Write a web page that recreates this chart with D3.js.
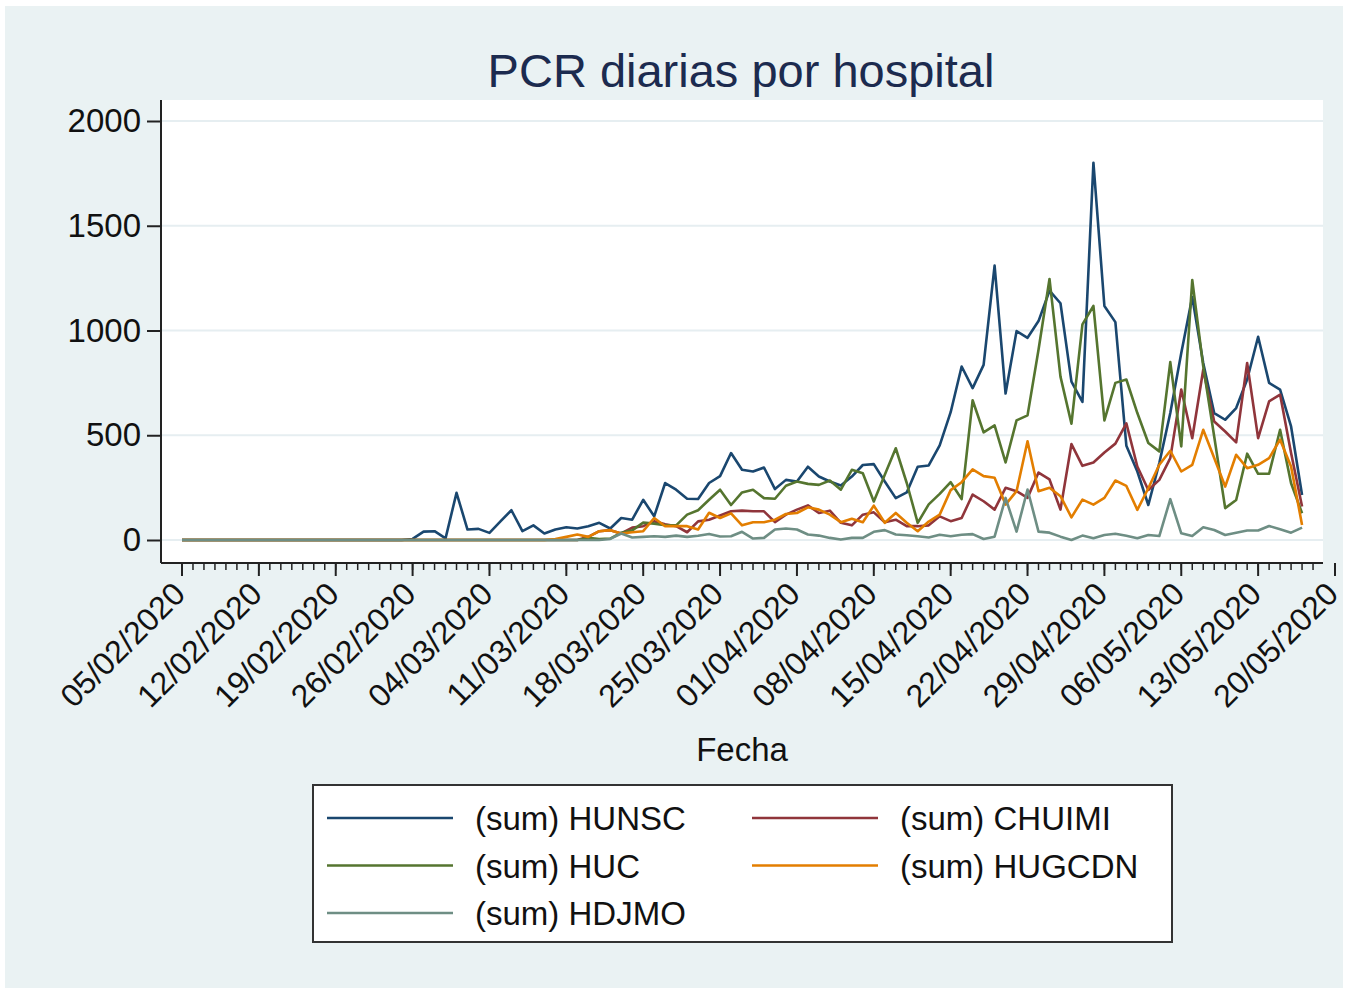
<!DOCTYPE html>
<html>
<head>
<meta charset="utf-8">
<script src="https://cdn.jsdelivr.net/npm/d3@7"></script>
<style>
  body { margin: 0; background: #fff; }
  svg { display: block; font-family: "Liberation Sans", Arial, sans-serif; }
</style>
</head>
<body>
<div id="chart"></div>
<script>
// daily PCR counts, one value per day starting 05/02/2020
let startDate = "2020-02-05";
let hospitals = ["HUNSC", "CHUIMI", "HUC", "HUGCDN", "HDJMO"];
let colors = ["#1a476f", "#90353b", "#55752f", "#e37e00", "#6e8e84"];

let zeros = n => new Array(n).fill(0);

let hunsc = zeros(20).concat([
  0,5,40,42,8,225,50,53,34,89,
  142,42,70,31,50,61,55,66,82,55,
  105,97,192,113,272,240,197,196,272,305,
  415,335,327,346,243,287,279,350,303,279,
  260,303,358,362,279,200,227,350,356,452,
  610,828,725,836,1310,699,997,965,1045,1190,
  1130,756,659,1801,1117,1040,450,327,167,367,
  606,893,1160,845,606,574,630,766,970,750,
  718,542,215]);

let chuimi = zeros(30).concat([
  0,0,0,0,0,0,0,15,42,47,
  31,59,66,89,75,66,37,89,97,117,
  137,140,137,137,85,121,145,165,129,140,
  82,70,121,132,85,97,66,66,70,113,
  90,105,217,185,145,249,233,201,322,289,
  145,458,354,370,418,460,557,351,239,287,
  391,718,486,813,566,518,466,845,486,662,
  694,415,160]);

let huc = zeros(30).concat([
  0,0,0,0,0,0,0,10,5,7,
  35,46,83,78,70,70,121,142,192,240,
  167,227,240,200,197,259,279,268,263,284,
  240,335,319,184,311,438,272,82,170,220,
  276,195,667,514,547,370,571,595,908,1246,
  780,555,1029,1117,571,750,766,606,463,423,
  849,447,1241,829,494,152,191,412,316,316,
  526,271,128]);

let hugcdn = zeros(30).concat([
  0,0,0,0,5,15,26,15,42,47,
  31,37,42,105,66,66,66,50,130,105,
  127,70,85,85,97,124,129,156,145,121,
  85,101,85,164,82,129,82,42,88,121,
  238,276,337,305,297,169,233,471,233,249,
  209,108,193,169,201,284,258,144,247,359,
  426,327,359,526,391,255,407,343,359,391,
  479,351,72]);

let hdjmo = zeros(30).concat([
  0,0,0,0,0,0,0,0,0,5,
  31,12,15,18,15,21,15,20,29,17,
  18,39,7,10,50,55,50,26,21,10,
  2,10,10,39,47,26,23,18,12,25,
  18,25,28,5,16,201,40,241,40,35,
  16,0,21,8,24,30,20,8,24,19,
  195,32,19,61,48,24,35,45,45,67,
  51,35,59]);

let series = [hunsc, chuimi, huc, hugcdn, hdjmo];
let yTicks = [0, 500, 1000, 1500, 2000];
let xTickStep = 7; // weekly labels
let xEnd = "2020-05-20";

let W = 1346, H = 989;
let plot = { left: 161, right: 1323, top: 100, bottom: 563 };

let parse = d3.timeParse("%Y-%m-%d");
let fmt = d3.timeFormat("%d/%m/%Y");
let d0 = parse(startDate), d1 = parse(xEnd);

let x = d3.scaleTime().domain([d0, d1]).range([182, 1335]);
let y = d3.scaleLinear().domain([0, 2000]).range([540, 121]);

let svg = d3.select("#chart").append("svg")
  .attr("width", W).attr("height", H);

svg.append("rect").attr("x", 5).attr("y", 6)
  .attr("width", 1338).attr("height", 982)
  .attr("fill", "#eaf2f3");

svg.append("rect")
  .attr("x", plot.left).attr("y", plot.top)
  .attr("width", plot.right - plot.left)
  .attr("height", plot.bottom - plot.top)
  .attr("fill", "#fff");

// gridlines
svg.append("g").selectAll("line").data(yTicks).enter().append("line")
  .attr("x1", plot.left).attr("x2", plot.right)
  .attr("y1", d => y(d)).attr("y2", d => y(d))
  .attr("stroke", "#e6eef1").attr("stroke-width", 2);

// y axis
let yAxis = d3.axisLeft(y).tickValues(yTicks).tickSize(14).tickPadding(6)
  .tickFormat(d3.format("d"));
let gy = svg.append("g").attr("transform", "translate(" + plot.left + ",0)").call(yAxis);
gy.select(".domain").remove();
gy.append("line").attr("x1", 0).attr("x2", 0)
  .attr("y1", plot.top).attr("y2", plot.bottom)
  .attr("stroke", "#222").attr("stroke-width", 2);
gy.selectAll(".tick line").attr("stroke", "#222").attr("stroke-width", 2);
gy.selectAll(".tick text").attr("font-size", 33).attr("fill", "#111")
  .attr("font-family", "Liberation Sans, Arial, sans-serif");

// x axis: minor daily ticks, major weekly ticks
let days = d3.timeDay.range(d0, d3.timeDay.offset(d1, 1));
let minor = days.filter(d => x(d) <= plot.right - 2);
let major = d3.timeDay.range(d0, d3.timeDay.offset(d1, 1), xTickStep);

let gx = svg.append("g");
gx.append("line").attr("x1", plot.left).attr("x2", plot.right)
  .attr("y1", plot.bottom).attr("y2", plot.bottom)
  .attr("stroke", "#222").attr("stroke-width", 2);
gx.selectAll("line.minor").data(minor).enter().append("line")
  .attr("class", "minor")
  .attr("x1", d => x(d)).attr("x2", d => x(d))
  .attr("y1", plot.bottom).attr("y2", plot.bottom + 7)
  .attr("stroke", "#222").attr("stroke-width", 1.5);
gx.selectAll("line.major").data(major).enter().append("line")
  .attr("class", "major")
  .attr("x1", d => x(d)).attr("x2", d => x(d))
  .attr("y1", plot.bottom).attr("y2", plot.bottom + 13)
  .attr("stroke", "#222").attr("stroke-width", 2);
gx.selectAll("text").data(major).enter().append("text")
  .attr("transform", d => "translate(" + (x(d) + 5) + "," + (plot.bottom + 33) + ") rotate(-45)")
  .attr("text-anchor", "end")
  .attr("font-size", 32).attr("fill", "#111")
  .text(d => fmt(d));

// axis title
svg.append("text").attr("x", 742).attr("y", 761)
  .attr("text-anchor", "middle").attr("font-size", 33).attr("fill", "#111")
  .text("Fecha");

// title
svg.append("text").attr("x", 741).attr("y", 87)
  .attr("text-anchor", "middle").attr("font-size", 47).attr("fill", "#1c2b4f")
  .text("PCR diarias por hospital");

// lines
let line = d3.line()
  .x((d, i) => x(d3.timeDay.offset(d0, i)))
  .y(d => y(d));

svg.append("g").selectAll("path").data(series).enter().append("path")
  .attr("d", line)
  .attr("fill", "none")
  .attr("stroke", (d, i) => colors[i])
  .attr("stroke-width", 2.6)
  .attr("stroke-linejoin", "round");

// legend
let lg = svg.append("g");
lg.append("rect").attr("x", 313).attr("y", 785)
  .attr("width", 859).attr("height", 157)
  .attr("fill", "#fff").attr("stroke", "#333").attr("stroke-width", 2);
let items = lg.selectAll("g.item").data(hospitals).enter().append("g")
  .attr("class", "item")
  .attr("transform", (d, i) => "translate(" + (327 + (i % 2) * 425) + "," + (818 + Math.floor(i / 2) * 47.5) + ")");
items.append("line").attr("x1", 0).attr("x2", 126).attr("y1", 0).attr("y2", 0)
  .attr("stroke", (d, i) => colors[i]).attr("stroke-width", 2.6);
items.append("text").attr("x", 148).attr("y", 12)
  .attr("font-size", 33).attr("fill", "#111")
  .text(d => "(sum) " + d);
</script>
</body>
</html>
